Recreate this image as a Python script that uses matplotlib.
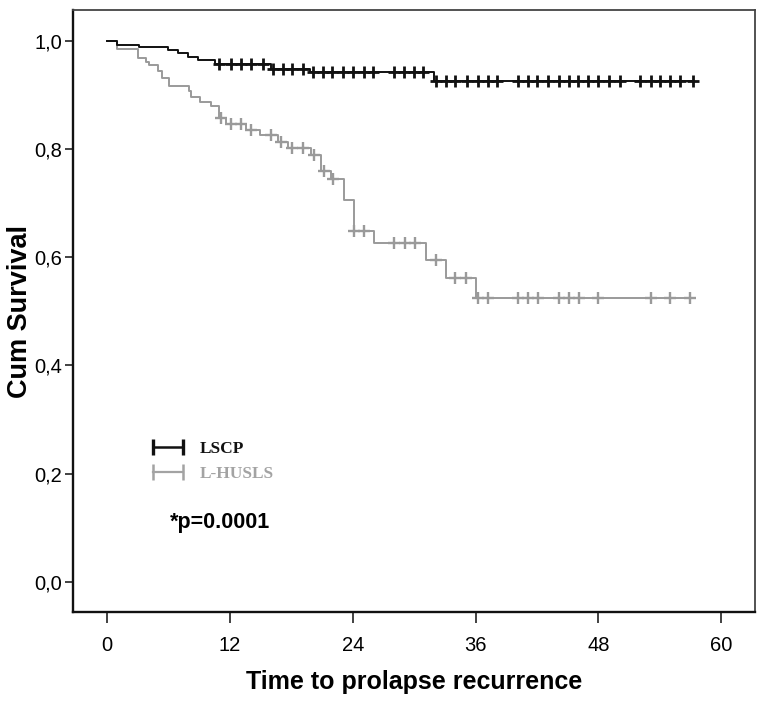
import numpy as np
import matplotlib
matplotlib.use('Agg')
import matplotlib.pyplot as plt
from matplotlib.lines import Line2D

plt.rcParams['font.family'] = ['Liberation Sans', 'DejaVu Sans']

# LSCP group: event times (months) and cumulative survival after each event
lscp_times = [0, 1, 3.1, 5.9, 6.9, 7.9, 8.9, 10.5, 16.0, 19.8, 31.9]
lscp_surv = [1.0, 0.993, 0.988, 0.983, 0.977, 0.970, 0.964, 0.957, 0.948, 0.942, 0.926]
lscp_censored = [10.9, 12.1, 13.1, 14.0, 15.2, 16.2, 17.2, 18.1, 19.1, 20.1, 21.1, 22.0,
                 23.0, 24.0, 25.1, 26.0, 28.0, 29.0, 30.0, 30.9, 32.1, 33.1, 34.0, 35.2,
                 36.2, 37.2, 38.1, 40.1, 41.1, 42.0, 43.1, 44.1, 45.1, 46.0, 47.0, 48.0,
                 49.0, 50.1, 52.1, 53.1, 54.0, 55.0, 56.0, 57.2]

# L-HUSLS group
husls_times = [0, 1.0, 3.0, 3.8, 4.1, 5.0, 5.3, 6.0, 8.0, 8.2, 9.1, 10.1, 10.9, 11.6,
               13.6, 14.9, 16.7, 17.7, 19.9, 20.9, 21.9, 23.1, 24.1, 26.1, 31.1, 33.1, 36.0]
husls_surv = [1.0, 0.984, 0.968, 0.961, 0.955, 0.945, 0.932, 0.916, 0.908, 0.896, 0.887,
              0.880, 0.858, 0.846, 0.836, 0.826, 0.813, 0.801, 0.789, 0.760, 0.744, 0.706,
              0.648, 0.627, 0.595, 0.561, 0.524]
husls_censored = [11.1, 12.1, 13.1, 14.0, 16.0, 17.0, 18.1, 19.1, 20.2, 21.2, 22.1, 24.1,
                  25.1, 28.0, 29.1, 30.1, 32.1, 34.0, 35.1, 36.2, 37.2, 40.1, 41.1, 42.1,
                  44.1, 45.1, 46.1, 48.0, 53.1, 55.0, 56.9]

x_ticks = [0, 12, 24, 36, 48, 60]
y_ticks = [0.0, 0.2, 0.4, 0.6, 0.8, 1.0]
y_ticklabels = ['0,0', '0,2', '0,4', '0,6', '0,8', '1,0']


def surv_at(times, surv, t):
    idx = np.searchsorted(np.asarray(times), np.asarray(t), side='right') - 1
    return np.asarray(surv)[idx]


def draw_km(ax, times, surv, cens, color, label, mew):
    end = max(cens)
    x = list(times) + [end]
    y = list(surv) + [surv[-1]]
    ax.step(x, y, where='post', color=color, linewidth=1.4, label=label)
    ax.plot(cens, surv_at(times, surv, cens), linestyle='none', marker='+',
            markersize=8, markeredgewidth=mew, color=color)


fig = plt.figure(figsize=(7.65, 7.09), dpi=100)
ax = fig.add_axes([0.0954, 0.1368, 0.8916, 0.8491])

grey = '#a3a3a3'
black = '#111111'
draw_km(ax, husls_times, husls_surv, husls_censored, '#9a9a9a', 'L-HUSLS', 1.7)
draw_km(ax, lscp_times, lscp_surv, lscp_censored, black, 'LSCP', 2.0)

ax.set_xlim(-3.35, 63.3)
ax.set_ylim(-0.056, 1.057)
ax.set_xticks(x_ticks)
ax.set_yticks(y_ticks)
ax.set_yticklabels(y_ticklabels)
ax.tick_params(axis='both', labelsize=14.5, direction='out', width=1.3, color='#333333')
ax.tick_params(axis='x', length=8, pad=9)
ax.tick_params(axis='y', length=6, pad=2)

for side in ['left', 'bottom']:
    ax.spines[side].set_linewidth(1.7)
    ax.spines[side].set_color('#111111')
for side in ['top', 'right']:
    ax.spines[side].set_linewidth(1.3)
    ax.spines[side].set_color('#444444')

ax.set_xlabel('Time to prolapse recurrence', fontsize=18, fontweight='bold', labelpad=11)
ax.set_ylabel('Cum Survival', fontsize=19.5, fontweight='bold', labelpad=1)

# legend with end-capped line handles
handles = [Line2D([0], [0], color=black, linewidth=1.8, marker='|', markersize=11,
                  markeredgewidth=2.4),
           Line2D([0], [0], color=grey, linewidth=1.6, marker='|', markersize=11,
                  markeredgewidth=1.8)]
leg = ax.legend(handles, ['LSCP', 'L-HUSLS'], loc='upper left', bbox_to_anchor=(0.11, 0.285),
                frameon=False, numpoints=2, handlelength=2.3, handletextpad=0.7,
                labelspacing=0.55, borderpad=0, borderaxespad=0,
                prop={'family': 'Liberation Serif', 'weight': 'bold', 'size': 12.5})
leg.get_texts()[0].set_color(black)
leg.get_texts()[1].set_color(grey)

ax.text(6.1, 0.11, '*p=0.0001', fontsize=15.5, fontweight='bold', ha='left', va='center')

plt.savefig('out.png', dpi=100)
